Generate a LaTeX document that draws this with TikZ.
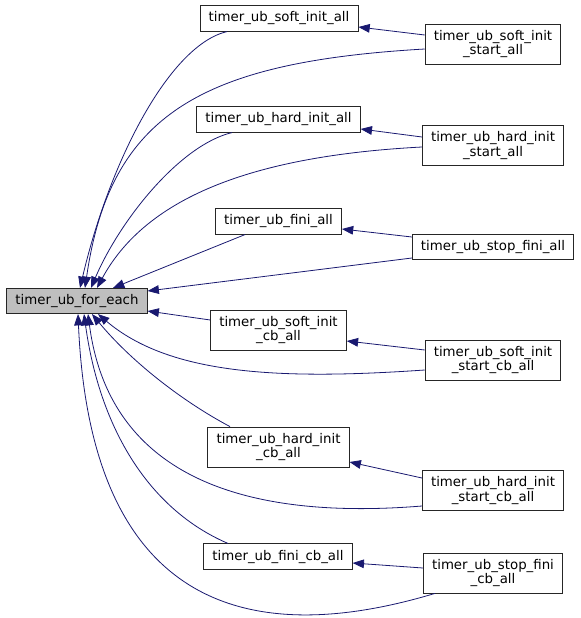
\documentclass[tikz,border=0pt]{standalone}
\usepackage{fontspec}
\setmainfont{DejaVu Sans}
\usetikzlibrary{positioning, arrows.meta, calc}

\definecolor{edgeblue}{RGB}{25,25,112}

\begin{document}
\begin{tikzpicture}[x=0.75pt, y=-0.75pt, >={Triangle[length=8.5pt, width=6.5pt]}, line width=0.6pt,
    fn/.style={draw=black!85, fill=white, font=\fontsize{10}{11.2}\selectfont, align=center,
        inner xsep=6.5pt, inner ysep=0pt, minimum height=19pt},
    fntwo/.style={fn, minimum height=30pt},
    call/.style={->, edgeblue}]
\useasboundingbox (0,0) rectangle (581,618);

% Funkce, ktera se vola
\node[fn, fill=black!25] (foreach) at (77,301) {timer\_ub\_for\_each};

% Prostredni sloupec
\node[fn] (softall) at (279,18.5) {timer\_ub\_soft\_init\_all};
\node[fn] (hardall) at (278.5,119.5) {timer\_ub\_hard\_init\_all};
\node[fn] (finiall) at (278.5,221.5) {timer\_ub\_fini\_all};
\node[fntwo] (softcb) at (278.5,330) {timer\_ub\_soft\_init\\\_cb\_all};
\node[fntwo] (hardcb) at (278.5,447) {timer\_ub\_hard\_init\\\_cb\_all};
\node[fn] (finicb) at (278,556.5) {timer\_ub\_fini\_cb\_all};

% Pravy sloupec
\node[fntwo] (softstart) at (493,44) {timer\_ub\_soft\_init\\\_start\_all};
\node[fntwo] (hardstart) at (493,145.5) {timer\_ub\_hard\_init\\\_start\_all};
\node[fn] (stopfini) at (493,247) {timer\_ub\_stop\_fini\_all};
\node[fntwo] (softstartcb) at (493,360) {timer\_ub\_soft\_init\\\_start\_cb\_all};
\node[fntwo] (hardstartcb) at (493,490.5) {timer\_ub\_hard\_init\\\_start\_cb\_all};
\node[fntwo] (stopfinicb) at (493,573) {timer\_ub\_stop\_fini\\\_cb\_all};

% Volani shora
\draw[call] ($(softall.south)+(-52,0)$) .. controls (170,45) and (110,160) .. ($(foreach.north)+(3,0)$);
\draw[call] ($(softstart.west)+(0,5)$) .. controls (200,62) and (110,115) .. ($(foreach.north)+(8,0)$);
\draw[call] ($(softstart.west)+(0,-9)$) -- ($(softall.east)+(0,8.5)$);

\draw[call] ($(hardall.south)+(-46.5,0)$) .. controls (180,145) and (120,220) .. ($(foreach.north)+(14,0)$);
\draw[call] ($(hardstart.west)+(0,1.5)$) .. controls (270,155) and (150,190) .. ($(foreach.north)+(20,0)$);
\draw[call] ($(hardstart.west)+(0,-8.5)$) -- ($(hardall.east)+(0,9.5)$);

\draw[call] ($(finiall.south)+(-33.5,0)$) -- ($(foreach.north)+(36,0)$);
\draw[call] ($(stopfini.west)+(0,11)$) -- ($(foreach.east)+(0,-10)$);
\draw[call] ($(stopfini.west)+(0,-10)$) -- ($(finiall.east)+(0,7.5)$);

% Volani zdola
\draw[call] ($(softcb.west)+(0,-10)$) -- ($(foreach.east)+(0,10)$);
\draw[call] ($(softstartcb.west)+(0,10)$) .. controls (280,380) and (170,375) .. ($(foreach.south)+(21,0)$);
\draw[call] ($(softstartcb.west)+(0,-10)$) -- ($(softcb.east)+(0,11)$);

\draw[call] ($(hardcb.north)+(-48.5,0)$) .. controls (180,400) and (130,360) .. ($(foreach.south)+(15,0)$);
\draw[call] ($(hardstartcb.west)+(0,15.5)$) .. controls (250,520) and (110,480) .. ($(foreach.south)+(11,0)$);
\draw[call] ($(hardstartcb.west)+(0,-12.5)$) -- ($(hardcb.east)+(0,15)$);

\draw[call] ($(finicb.north)+(-50,0)$) .. controls (150,510) and (100,430) .. ($(foreach.south)+(7,0)$);
\draw[call] ($(stopfinicb.south)+(-58,0)$) .. controls (230,655) and (90,590) .. ($(foreach.south)+(1,0)$);
\draw[call] ($(stopfinicb.west)+(0,-5)$) -- ($(finicb.east)+(0,6.5)$);

\end{tikzpicture}
\end{document}
